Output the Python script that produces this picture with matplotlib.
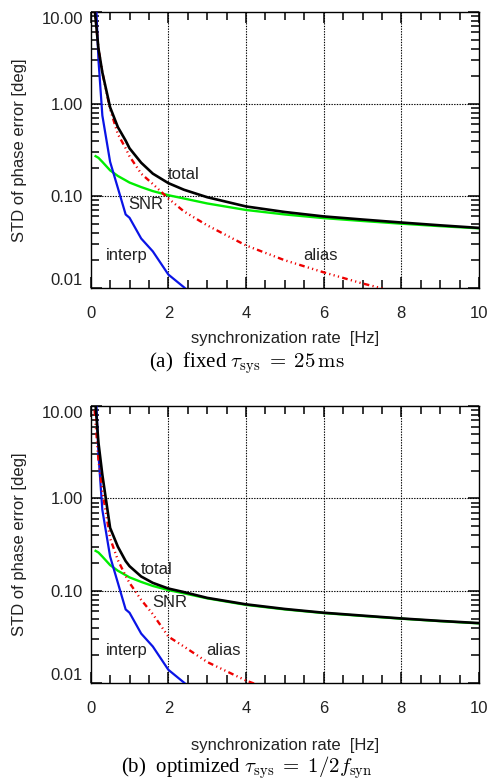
import numpy as np
import matplotlib
matplotlib.use("Agg")
import matplotlib.pyplot as plt
from matplotlib.ticker import FixedLocator, NullFormatter, MultipleLocator, LogLocator

plt.rcParams['font.family'] = ['Liberation Sans', 'DejaVu Sans']
plt.rcParams['mathtext.fontset'] = 'cm'

nan = np.nan
# synchronization rate [Hz]
rate = [0.1, 0.2, 0.3, 0.5, 0.7, 0.9, 1.0, 1.3, 1.6, 2.0, 2.4, 3, 4, 5, 6, 7, 8, 9, 10]

# (a) fixed tau_sys
total_a = [11, 4.0, 2.2, 0.92, 0.56, 0.40, 0.33, 0.23, 0.175, 0.138, 0.117, 0.097, 0.077, 0.067, 0.060, 0.0555, 0.0515, 0.048, 0.045]
alias_a = [11, 4.0, 2.2, 0.88, 0.47, 0.33, 0.27, 0.175, 0.135, 0.094, 0.068, 0.048, 0.029, 0.020, 0.0148, 0.0112, 0.0088, nan, nan]
snr_a = [0.275, 0.26, 0.235, 0.19, 0.165, 0.148, 0.14, 0.125, 0.113, 0.102, 0.094, 0.083, 0.0705, 0.063, 0.0575, 0.0535, 0.050, 0.047, 0.0445]
interp_a = [30, 3.0, 0.75, 0.235, 0.122, 0.063, 0.058, 0.0345, 0.025, 0.014, 0.0102, 0.006, nan, nan, nan, nan, nan, nan, nan]

# (b) optimized tau_sys
total_b = [14, 4.0, 1.8, 0.48, 0.30, 0.21, 0.185, 0.143, 0.122, 0.106, 0.097, 0.084, 0.0715, 0.0637, 0.058, 0.054, 0.0503, 0.0473, 0.0448]
alias_b = [9, 2.6, 1.2, 0.37, 0.215, 0.145, 0.122, 0.08, 0.056, 0.032, 0.025, 0.017, 0.0107, 0.0075, nan, nan, nan, nan, nan]
snr_b = snr_a
interp_b = interp_a

yticks = [0.01, 0.1, 1.0, 10.0]
yticklabels = ["0.01", "0.10", "1.00", "10.00"]
xticks = [0, 2, 4, 6, 8, 10]

labels_a = {"total": (2.39, 0.172), "SNR": (1.42, 0.080), "interp": (0.93, 0.0228), "alias": (5.93, 0.0228)}
labels_b = {"total": (1.70, 0.170), "SNR": (2.03, 0.074), "interp": (0.93, 0.0228), "alias": (3.43, 0.0228)}

W, H = 494, 781
fig = plt.figure(figsize=(W / 100, H / 100), dpi=100)

def make_axes(top_px, bot_px):
    left_px, right_px = 90.7, 479.0
    return fig.add_axes([left_px / W, 1 - bot_px / H, (right_px - left_px) / W, (bot_px - top_px) / H])

ax_a = make_axes(12.0, 288.0)
ax_b = make_axes(406.0, 683.3)

alias_style = (0, (2.4, 1.4, 0.5, 1.4, 0.5, 1.4, 0.5, 1.4))
FS = 12

def draw(ax, total, alias, snr, interp, labels, xlab_y):
    ax.set_yscale('log')
    ax.set_xlim(0, 10)
    ax.set_ylim(0.01, 10.0)
    ax.plot(rate, snr, color='#00ee00', lw=1.7, solid_capstyle='butt', zorder=3)
    ax.plot(rate, interp, color='#0a14e6', lw=1.6, zorder=3)
    ax.plot(rate, alias, color='#ee0000', lw=1.7, linestyle=alias_style, dash_capstyle='butt', zorder=4)
    ax.plot(rate, total, color='black', lw=1.9, zorder=5)
    for name, (x, y) in labels.items():
        ax.text(x, y, name, fontsize=FS, color='#222222', ha='center', va='center', zorder=6)
    ax.xaxis.set_major_locator(FixedLocator(xticks))
    ax.xaxis.set_minor_locator(MultipleLocator(0.5))
    ax.yaxis.set_major_locator(FixedLocator(yticks))
    ax.yaxis.set_minor_locator(LogLocator(base=10, subs=tuple(range(2, 10)), numticks=20))
    ax.yaxis.set_minor_formatter(NullFormatter())
    ax.set_yticklabels(yticklabels)
    tl = ax.get_yticklabels()
    tl[0].set_va('bottom')
    tl[-1].set_va('top')
    ax.tick_params(axis='both', which='major', direction='in', top=True, right=True,
                   length=8, width=1.1, color='black', labelcolor='#222222', labelsize=FS)
    ax.tick_params(axis='both', which='minor', direction='in', top=True, right=True,
                   length=5.5, width=1.1, color='black')
    ax.tick_params(axis='x', which='major', pad=13)
    ax.tick_params(axis='y', which='major', pad=5.5)
    for x in [2, 4, 6, 8]:
        ax.axvline(x, color='black', lw=0.8, ls=(0, (1.2, 1.2)), zorder=1)
    for y in [0.1, 1.0]:
        ax.axhline(y, color='black', lw=0.8, ls=(0, (1.2, 1.2)), zorder=1)
    for sp in ax.spines.values():
        sp.set_linewidth(1.0)
    ax.set_ylabel("STD of phase error [deg]", fontsize=FS, color='#222222')
    ax.yaxis.set_label_coords(-0.163, 0.5)
    ax.set_xlabel("synchronization rate  [Hz]", fontsize=FS, color='#222222')
    ax.xaxis.set_label_coords(0.5, xlab_y)

draw(ax_a, total_a, alias_a, snr_a, interp_a, labels_a, -0.156)
draw(ax_b, total_b, alias_b, snr_b, interp_b, labels_b, -0.196)

cap_font = ['Liberation Serif', 'DejaVu Serif']
fig.text(0.5, 1 - 367 / H, r"(a)  fixed $\tau_{\rm sys}\;=\;25\,{\rm ms}$", ha='center', va='baseline',
         fontsize=15, family=cap_font)
fig.text(0.5, 1 - 772 / H, r"(b)  optimized $\tau_{\rm sys}\;=\;1/2f_{\rm syn}$", ha='center', va='baseline',
         fontsize=15, family=cap_font)

fig.savefig("out.png", dpi=100)
